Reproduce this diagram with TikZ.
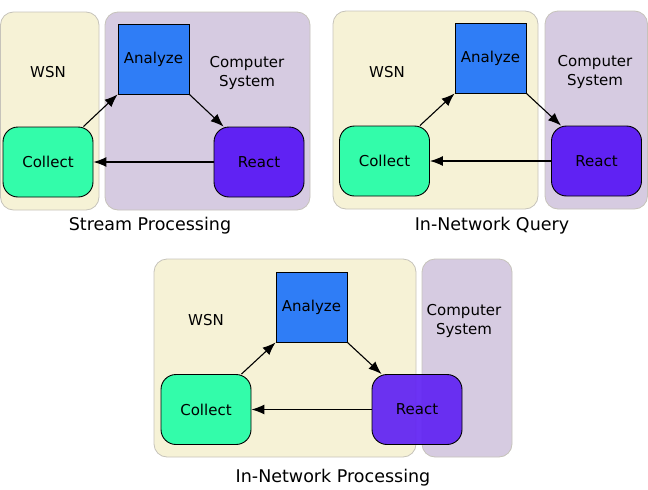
\documentclass[tikz,border=0pt]{standalone}
\usepackage{fontspec}
\setmainfont{DejaVu Sans}
\usetikzlibrary{arrows.meta,calc}
\definecolor{wsnfill}{HTML}{F6F2D6}
\definecolor{csfill}{HTML}{D6CBE1}
\definecolor{bgline}{HTML}{C6C3BA}
\definecolor{anfill}{HTML}{2F7DF6}
\definecolor{cofill}{HTML}{33FCAA}
\definecolor{refill}{HTML}{6022F3}
\tikzset{
  wsnbox/.style={fill=wsnfill,draw=bgline,line width=0.8pt,rounded corners=13pt},
  csbox/.style={fill=csfill,draw=bgline,line width=0.8pt,rounded corners=13pt},
  anbox/.style={draw=black,line width=0.9pt,fill=anfill,minimum width=71pt,minimum height=70pt,inner sep=0pt,font=\fontsize{15}{19}\selectfont},
  rbox/.style={draw=black,line width=0.9pt,rounded corners=15pt,minimum width=90pt,minimum height=70pt,inner sep=0pt,font=\fontsize{15}{19}\selectfont},
  colbox/.style={rbox,fill=cofill},
  reabox/.style={rbox,fill=refill},
  lbl/.style={font=\fontsize{15}{19}\selectfont,align=center,inner sep=0pt},
  ttl/.style={font=\fontsize{17.5}{21}\selectfont,inner sep=0pt},
  flow/.style={line width=1.1pt,-{Latex[length=13pt,width=10pt]}}
}
\begin{document}
\begin{tikzpicture}[x=1pt,y=-1pt]
\useasboundingbox (0,0) rectangle (648,490);
% Panel 1: Stream Processing
\path[wsnbox] (0.5,12) rectangle (99,210);
\path[csbox] (105,12) rectangle (310,210);
\node[lbl] (w1) at (48,72) {WSN};
\node[lbl] (s1) at (247,72.5) {Computer\\System};
\node[anbox] (a1) at (153.5,59) {Analyze};
\node[colbox] (c1) at (48,162) {Collect};
\node[reabox] (r1) at (259,162) {React};
\draw[flow] (c1.45) -- (a1.south west);
\draw[flow] (a1.south east) -- (r1.135);
\draw[flow] (r1.west) -- (c1.east);
\node[ttl] (t1) at (150,226) {Stream Processing};
% Panel 2: In-Network Query
\path[wsnbox] (333,11) rectangle (538,209);
\path[csbox] (545,11) rectangle (647.5,209);
\node[lbl] (w2) at (387,72) {WSN};
\node[lbl] (s2) at (595,71.5) {Computer\\System};
\node[anbox] (a2) at (490.5,58) {Analyze};
\node[colbox] (c2) at (384.5,161) {Collect};
\node[reabox] (r2) at (596.5,161) {React};
\draw[flow] (c2.45) -- (a2.south west);
\draw[flow] (a2.south east) -- (r2.135);
\draw[flow] (r2.west) -- (c2.east);
\node[ttl] (t2) at (492,226) {In-Network Query};
% Panel 3: In-Network Processing
\path[wsnbox] (154,259) rectangle (416,457);
\path[csbox] (422,259) rectangle (512,457);
\node[lbl] (w3) at (206,320) {WSN};
\node[lbl] (s3) at (464,320.5) {Computer\\System};
\node[anbox] (a3) at (311.5,307) {Analyze};
\node[colbox] (c3) at (206,409.5) {Collect};
\node[reabox,fill opacity=0.92,text opacity=1] (r3) at (417,409.5) {React};
\draw[flow] (c3.45) -- (a3.south west);
\draw[flow] (a3.south east) -- (r3.135);
\draw[flow] (r3.west) -- (c3.east);
\node[ttl] (t3) at (333,478) {In-Network Processing};
\end{tikzpicture}
\end{document}
